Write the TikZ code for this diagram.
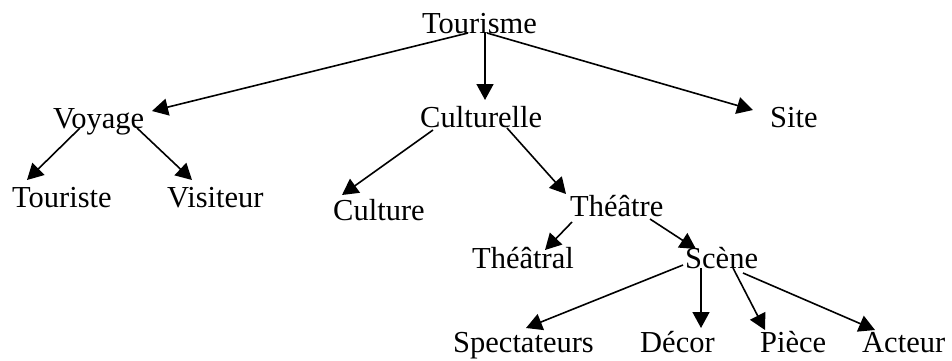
\documentclass[tikz,border=0pt]{standalone}
\usepackage{fontspec}
\setmainfont{Liberation Serif}
\usetikzlibrary{arrows.meta,calc}
\begin{document}
\begin{tikzpicture}[x=1pt,y=-1pt,
  lbl/.style={anchor=base west,inner sep=0pt,font=\fontsize{30.5}{36}\selectfont},
  arr/.style={-{Triangle[length=16pt,width=17pt]},line width=1.6pt}]
\useasboundingbox (0,0) rectangle (952,360);
\node[lbl] (tourisme) at (422,33) {Tourisme};
\node[lbl] (voyage) at (53,128) {Voyage};
\node[lbl] (culturelle) at (420,127) {Culturelle};
\node[lbl] (site) at (770,127) {Site};
\node[lbl] (touriste) at (12,207) {Touriste};
\node[lbl] (visiteur) at (167,207) {Visiteur};
\node[lbl] (culture) at (333,220) {Culture};
\node[lbl] (theatre) at (570,216) {Théâtre};
\node[lbl] (theatral) at (472,268) {Théâtral};
\node[lbl] (scene) at (685,268) {Scène};
\node[lbl] (spectateurs) at (453,352) {Spectateurs};
\node[lbl] (decor) at (640,352) {Décor};
\node[lbl] (piece) at (760,352) {Pièce};
\node[lbl] (acteur) at (862,352) {Acteur};
% connectors
\draw[arr] ($(tourisme.base west)+(46,0)$) -- ($(voyage.base west)+(99,-17)$);
\draw[arr] ($(tourisme.base west)+(63,0)$) -- ($(culturelle.base west)+(65,-27)$);
\draw[arr] ($(tourisme.base west)+(65,0)$) -- ($(site.base west)+(-17,-17)$);
\draw[arr] ($(voyage.base west)+(27,0)$) -- ($(touriste.base west)+(15,-27)$);
\draw[arr] ($(voyage.base west)+(84,0)$) -- ($(visiteur.base west)+(25,-27)$);
\draw[arr] ($(culturelle.base west)+(13,3)$) -- ($(culture.base west)+(9,-25)$);
\draw[arr] ($(culturelle.base west)+(87,1)$) -- ($(theatre.base west)+(-4,-22)$);
\draw[arr] ($(theatre.base west)+(2,6)$) -- ($(theatral.base west)+(73,-18)$);
\draw[arr] ($(theatre.base west)+(80,3)$) -- ($(scene.base west)+(11,-19)$);
\draw[arr] ($(scene.base west)+(-2,-3)$) -- ($(spectateurs.base west)+(73,-24)$);
\draw[arr] ($(scene.base west)+(16,0)$) -- ($(decor.base west)+(61,-24)$);
\draw[arr] ($(scene.base west)+(48,0)$) -- ($(piece.base west)+(5,-22)$);
\draw[arr] ($(scene.base west)+(58,5)$) -- ($(acteur.base west)+(13,-22)$);
\end{tikzpicture}
\end{document}
